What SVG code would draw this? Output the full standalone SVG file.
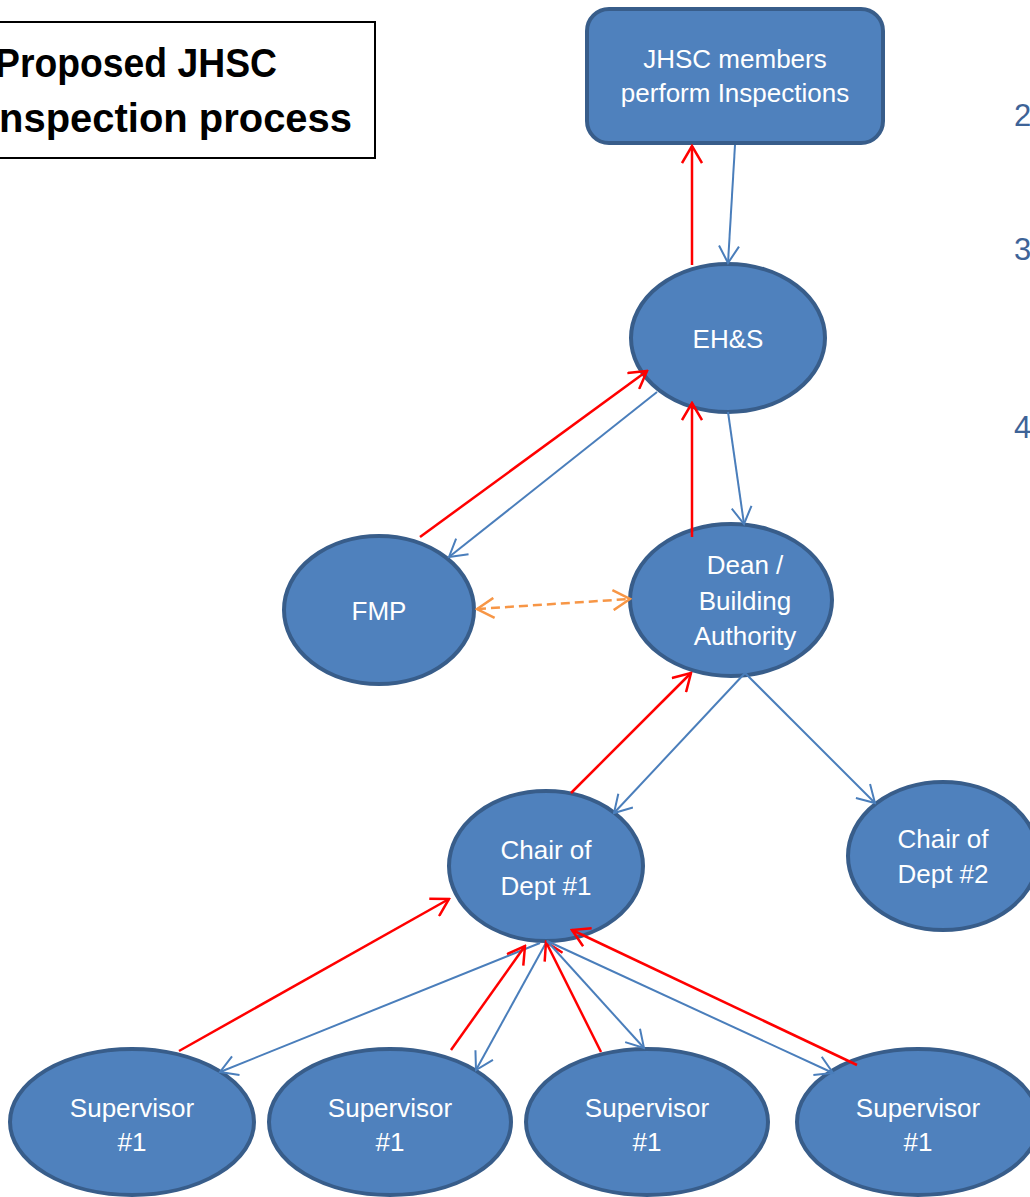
<svg xmlns="http://www.w3.org/2000/svg" width="1030" height="1197" viewBox="0 0 1030 1197">
<defs>
<style>
.node{fill:#4F81BD;stroke:#385D8A;stroke-width:4}
.lbl{font-family:"Liberation Sans",Arial,sans-serif;font-size:26px;fill:#FFFFFF;text-anchor:middle}
.red{stroke:#FF0000;stroke-width:2.5;fill:none;marker-end:url(#ar)}
.blue{stroke:#4A7EBB;stroke-width:2;fill:none;marker-end:url(#ab)}
.orange{stroke:#F79646;stroke-width:2.5;fill:none;stroke-dasharray:9 5;marker-end:url(#ao);marker-start:url(#aos)}
.num{font-family:"Liberation Sans",Arial,sans-serif;font-size:31px;fill:#3E6397}
.title{font-family:"Liberation Sans",Arial,sans-serif;font-size:40px;font-weight:bold;fill:#000}
</style>
<marker id="ar" viewBox="0 0 20 22" refX="18" refY="11" markerWidth="20" markerHeight="22" markerUnits="userSpaceOnUse" orient="auto"><path d="M1,1 L18,11 L1,21" fill="none" stroke="#FF0000" stroke-width="2.5"/></marker>
<marker id="ab" viewBox="0 0 20 22" refX="18" refY="11" markerWidth="20" markerHeight="22" markerUnits="userSpaceOnUse" orient="auto"><path d="M1,1 L18,11 L1,21" fill="none" stroke="#4A7EBB" stroke-width="2"/></marker>
<marker id="ao" viewBox="0 0 20 22" refX="18" refY="11" markerWidth="20" markerHeight="22" markerUnits="userSpaceOnUse" orient="auto"><path d="M1,1 L18,11 L1,21" fill="none" stroke="#F79646" stroke-width="2.5"/></marker>
<marker id="aos" viewBox="0 0 20 22" refX="18" refY="11" markerWidth="20" markerHeight="22" markerUnits="userSpaceOnUse" orient="auto-start-reverse"><path d="M1,1 L18,11 L1,21" fill="none" stroke="#F79646" stroke-width="2.5"/></marker>
</defs>
<rect width="1030" height="1197" fill="#FFFFFF"/>

<g id="title">
<rect x="-10" y="22" width="385" height="136" fill="#FFFFFF" stroke="#000" stroke-width="2"/>
<text class="title" x="-5" y="77" textLength="282" lengthAdjust="spacingAndGlyphs">Proposed JHSC</text>
<text class="title" x="-12" y="132" textLength="364" lengthAdjust="spacingAndGlyphs">Inspection process</text>
</g>

<g id="numbers">
<text class="num" x="1014" y="126">2</text>
<text class="num" x="1014" y="260">3</text>
<text class="num" x="1014" y="438">4</text>
</g>

<g id="jhsc">
<rect class="node" x="587" y="9" width="296" height="134" rx="22"/>
<text class="lbl" x="735" y="68">JHSC members</text>
<text class="lbl" x="735" y="102">perform Inspections</text>
</g>
<g id="ehs">
<ellipse class="node" cx="728" cy="338" rx="97" ry="74"/>
<text class="lbl" x="728" y="348">EH&amp;S</text>
</g>
<g id="fmp">
<ellipse class="node" cx="379" cy="610" rx="95" ry="74"/>
<text class="lbl" x="379" y="620">FMP</text>
</g>
<g id="dean">
<ellipse class="node" cx="731" cy="600" rx="101" ry="76"/>
<text class="lbl" x="745" y="574">Dean /</text>
<text class="lbl" x="745" y="610">Building</text>
<text class="lbl" x="745" y="645">Authority</text>
</g>
<g id="chair1">
<ellipse class="node" cx="546" cy="866" rx="97" ry="75"/>
<text class="lbl" x="546" y="859">Chair of</text>
<text class="lbl" x="546" y="895">Dept #1</text>
</g>
<g id="chair2">
<ellipse class="node" cx="943" cy="856" rx="95" ry="74"/>
<text class="lbl" x="943" y="848">Chair of</text>
<text class="lbl" x="943" y="883">Dept #2</text>
</g>
<g id="sup1">
<ellipse class="node" cx="132" cy="1122" rx="122" ry="73"/>
<text class="lbl" x="132" y="1117">Supervisor</text>
<text class="lbl" x="132" y="1151">#1</text>
</g>
<g id="sup2">
<ellipse class="node" cx="390" cy="1122" rx="121" ry="73"/>
<text class="lbl" x="390" y="1117">Supervisor</text>
<text class="lbl" x="390" y="1151">#1</text>
</g>
<g id="sup3">
<ellipse class="node" cx="647" cy="1122" rx="121" ry="73"/>
<text class="lbl" x="647" y="1117">Supervisor</text>
<text class="lbl" x="647" y="1151">#1</text>
</g>
<g id="sup4">
<ellipse class="node" cx="918" cy="1122" rx="121" ry="73"/>
<text class="lbl" x="918" y="1117">Supervisor</text>
<text class="lbl" x="918" y="1151">#1</text>
</g>

<g id="connectors">
<line class="red" x1="692" y1="265" x2="692" y2="146"/>
<line class="blue" x1="735" y1="145" x2="728" y2="263"/>
<line class="red" x1="420" y1="537" x2="647" y2="371"/>
<line class="blue" x1="657" y1="392" x2="449" y2="557"/>
<line class="red" x1="692" y1="537" x2="692" y2="403"/>
<line class="blue" x1="728" y1="412" x2="744" y2="524"/>
<line class="orange" x1="477" y1="609" x2="630" y2="599"/>
<line class="red" x1="571" y1="793" x2="691" y2="673"/>
<line class="blue" x1="745" y1="673" x2="614" y2="813"/>
<line class="blue" x1="745" y1="673" x2="875" y2="803"/>
<line class="red" x1="179" y1="1051" x2="449" y2="899"/>
<line class="blue" x1="540" y1="943" x2="220" y2="1072"/>
<line class="red" x1="451" y1="1050" x2="525" y2="946"/>
<line class="blue" x1="547" y1="941" x2="476" y2="1070"/>
<line class="red" x1="601" y1="1052" x2="546" y2="942"/>
<line class="blue" x1="547" y1="941" x2="644" y2="1048"/>
<line class="blue" x1="547" y1="941" x2="833" y2="1073"/>
<line class="red" x1="857" y1="1065" x2="572" y2="930"/>
</g>
</svg>
